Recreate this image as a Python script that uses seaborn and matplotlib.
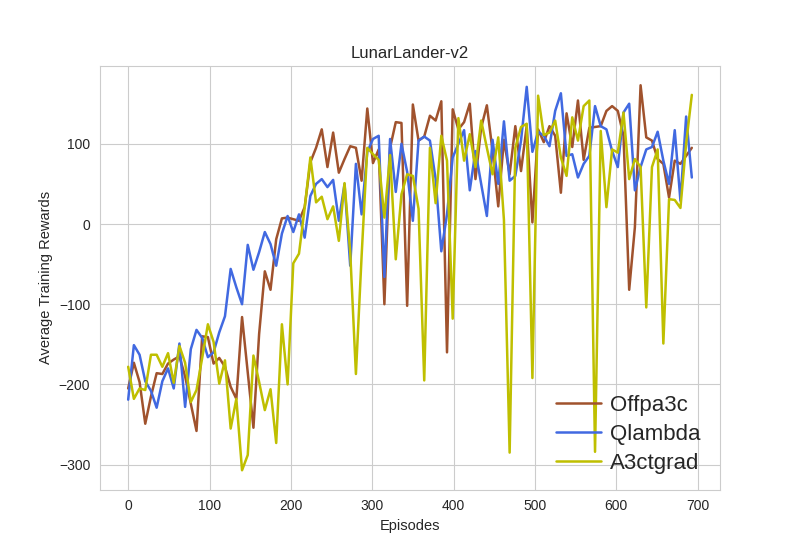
import numpy as np
import pandas as pd
import matplotlib
matplotlib.use("Agg")
import matplotlib.pyplot as plt
import seaborn as sns

episodes = list(range(0, 700, 7))

offpa3c = [
    -205, -173, -197, -249, -215, -186, -187, -174, -169, -165,
    -190, -224, -258, -140, -141, -174, -167, -178, -203, -218,
    -116, -185, -254, -137, -59, -82, -19, 7, 8, 6,
    4, 21, 77, 95, 118, 71, 114, 64, 81, 97,
    95, 54, 144, 76, 93, -100, 95, 127, 126, -102,
    149, 104, 109, 135, 129, 153, -160, 143, 118, 127,
    150, 56, 120, 148, 91, 22, 105, 62, 122, 66,
    122, 2, 118, 102, 122, 110, 39, 138, 96, 154,
    80, 120, 121, 122, 141, 147, 141, 110, -82, -4,
    173, 108, 104, 81, 75, 33, 79, 75, 85, 95,
]

qlambda = [
    -219, -151, -163, -196, -208, -229, -196, -180, -205, -149,
    -228, -156, -132, -142, -166, -160, -135, -115, -56, -79,
    -100, -26, -57, -35, -10, -25, -52, -12, 10, -10,
    12, -17, 35, 50, 56, 46, 55, 4, 50, -52,
    75, 12, 90, 106, 110, -66, 106, 40, 100, 65,
    4, 104, 109, 104, 56, -34, 12, 83, 100, 117,
    42, 91, 50, 10, 105, 50, 128, 54, 60, 104,
    171, 90, 115, 110, 97, 141, 163, 85, 87, 58,
    75, 85, 147, 122, 118, 91, 71, 139, 150, 42,
    71, 93, 96, 115, 79, 50, 117, 29, 134, 58,
]

a3ctgrad = [
    -178, -218, -205, -207, -163, -163, -178, -161, -198, -152,
    -173, -222, -207, -167, -125, -147, -199, -170, -255, -218,
    -307, -288, -164, -197, -232, -206, -273, -125, -200, -49,
    -37, 20, 83, 27, 34, 6, 22, -21, 51, -35,
    -187, -40, 95, 87, 80, 8, 86, -44, 37, 62,
    60, 19, -195, 95, 26, 110, 79, -118, 132, 79,
    112, 71, 129, 95, 62, 108, 5, -285, 95, 121,
    125, -192, 160, 111, 114, 129, 83, 60, 133, 104,
    147, 154, -284, 116, 21, 93, 89, 139, 56, 81,
    71, -104, 71, 93, -149, 31, 30, 20, 100, 161,
]

series_names = ["Offpa3c", "Qlambda", "A3ctgrad"]
series_colors = ["#a0522d", "#4169e1", "#bfbf00"]

sns.set_style("whitegrid")
plt.rcParams['font.family'] = ['Liberation Sans', 'DejaVu Sans']

fig, ax = plt.subplots(figsize=(8, 5.5), dpi=100)

for name, vals, col in zip(series_names, [offpa3c, qlambda, a3ctgrad], series_colors):
    df = pd.DataFrame({"Episodes": episodes, "Reward": vals})
    sns.lineplot(data=df, x="Episodes", y="Reward", color=col, linewidth=1.8,
                 label=name, ax=ax)

ax.set_title("LunarLander-v2", fontsize=12)
ax.set_xlabel("Episodes", fontsize=10.5)
ax.set_ylabel("Average Training Rewards", fontsize=10.5)
ax.set_xticks([0, 100, 200, 300, 400, 500, 600, 700])
ax.set_yticks([-300, -200, -100, 0, 100])
ax.tick_params(labelsize=10)
leg = ax.legend(loc="lower right", bbox_to_anchor=(0.993, 0.0), fontsize=16,
                frameon=False, labelspacing=0.36, handletextpad=0.4,
                borderaxespad=0.3)

fig.savefig("out.png", dpi=100)
